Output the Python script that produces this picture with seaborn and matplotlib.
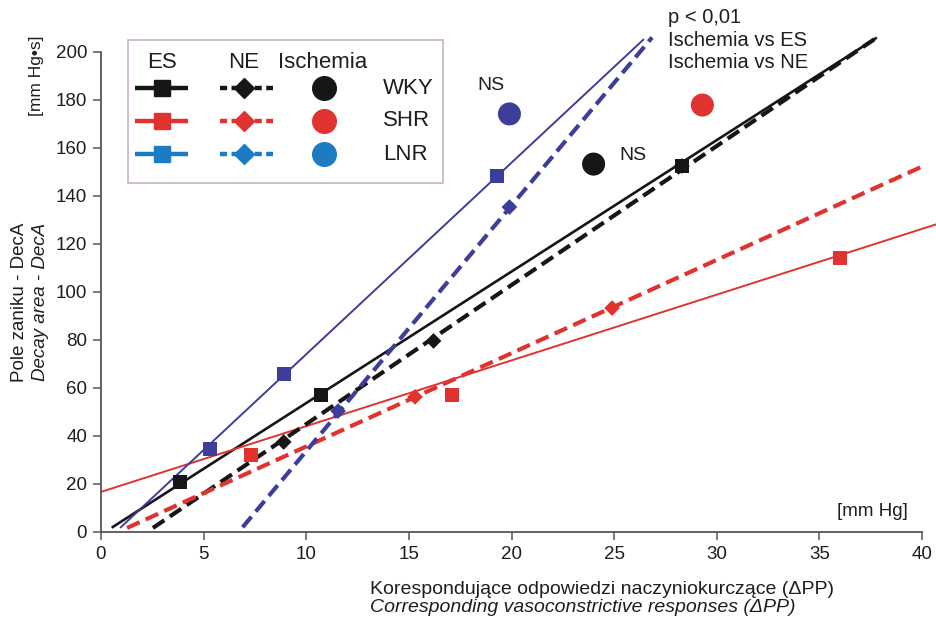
import matplotlib
matplotlib.use("Agg")
import matplotlib.pyplot as plt
from matplotlib.lines import Line2D
from matplotlib.patches import Rectangle
import numpy as np
import pandas as pd
import seaborn as sns

# ---------------------------------------------------------------- data
strains = ["WKY", "SHR", "LNR"]
protocols = ["ES", "NE", "Ischemia"]

# electrical stimulation (ES): corresponding ΔPP [mm Hg] and DecA [mm Hg*s]
wky_es_x = [3.85, 10.7, 28.3]
wky_es_y = [20.8, 57.1, 152.5]
shr_es_x = [7.3, 17.1, 36.0]
shr_es_y = [32.1, 57.1, 114.2]
lnr_es_x = [5.3, 8.9, 19.3]
lnr_es_y = [34.6, 65.8, 148.3]

# noradrenaline (NE)
wky_ne_x = [8.9, 16.2, 28.3]
wky_ne_y = [37.5, 79.6, 152.5]
shr_ne_x = [15.3, 24.9]
shr_ne_y = [56.3, 93.3]
lnr_ne_x = [11.55, 19.9]
lnr_ne_y = [50.4, 135.4]

# ischemia
isch_x = [24.0, 29.3, 19.9]
isch_y = [153.3, 177.9, 174.2]

# regression lines: slope, intercept, x start, x end
wky_es_fit = [5.478, -1.05, 0.52, 37.8]
wky_ne_fit = [5.793, -12.96, 2.53, 37.8]
shr_es_fit = [2.74, 16.7, 0.0, 40.7]
shr_ne_fit = [3.887, -3.24, 1.27, 40.2]
lnr_es_fit = [7.98, -5.72, 0.93, 26.45]
lnr_ne_fit = [10.23, -68.6, 6.9, 26.85]

x_ticks = list(range(0, 41, 5))
y_ticks = list(range(0, 201, 20))

# ---------------------------------------------------------------- tables
points = pd.DataFrame(
    [dict(strain=s, protocol="ES", x=x, y=y)
     for s, xs, ys in [("WKY", wky_es_x, wky_es_y), ("SHR", shr_es_x, shr_es_y),
                       ("LNR", lnr_es_x, lnr_es_y)]
     for x, y in zip(xs, ys)]
    + [dict(strain=s, protocol="NE", x=x, y=y)
       for s, xs, ys in [("WKY", wky_ne_x, wky_ne_y), ("SHR", shr_ne_x, shr_ne_y),
                         ("LNR", lnr_ne_x, lnr_ne_y)]
       for x, y in zip(xs, ys)]
    + [dict(strain=s, protocol="Ischemia", x=x, y=y)
       for s, x, y in zip(strains, isch_x, isch_y)]
)

fits = {("WKY", "ES"): wky_es_fit, ("WKY", "NE"): wky_ne_fit,
        ("SHR", "ES"): shr_es_fit, ("SHR", "NE"): shr_ne_fit,
        ("LNR", "ES"): lnr_es_fit, ("LNR", "NE"): lnr_ne_fit}
lines = pd.DataFrame(
    [dict(strain=s, protocol=p, x=xv, y=m * xv + b)
     for (s, p), (m, b, x0, x1) in fits.items() for xv in (x0, x1)]
)

# ---------------------------------------------------------------- style
plot_colors = {"WKY": "#161616", "SHR": "#e0332f", "LNR": "#3d3d9c"}
key_colors = {"WKY": "#161616", "SHR": "#e0332f", "LNR": "#1b7bc3"}
markers = {"ES": "s", "NE": "D", "Ischemia": "o"}
marker_sizes = {"ES": 100, "NE": 64, "Ischemia": 275}
es_widths = {"WKY": 1.9, "SHR": 1.4, "LNR": 1.4}

sns.set_theme(style="ticks")
plt.rcParams["font.family"] = ["Liberation Sans", "DejaVu Sans"]
text_color = "#1e1e1e"

W, H = 936, 620
fig = plt.figure(figsize=(W / 100, H / 100), dpi=100)
ax = fig.add_axes([101 / W, 88 / H, 821 / W, 480 / H])


def fx(px):
    return px / W


def fy(py):
    return 1 - py / H


# trend lines
for s in strains:
    sub = lines[(lines.strain == s) & (lines.protocol == "ES")]
    sns.lineplot(data=sub, x="x", y="y", color=plot_colors[s], lw=es_widths[s],
                 estimator=None, legend=False, ax=ax)
for s in strains:
    sub = lines[(lines.strain == s) & (lines.protocol == "NE")]
    sns.lineplot(data=sub, x="x", y="y", color=plot_colors[s], lw=3.0,
                 estimator=None, legend=False, ax=ax)
    ax.lines[-1].set_dashes((3.3, 1.6))
for ln in ax.lines:
    ln.set_clip_on(False)
    ln.set_solid_capstyle("butt")

# markers
sns.scatterplot(data=points, x="x", y="y", hue="strain", palette=plot_colors,
                style="protocol", markers=markers, size="protocol",
                sizes=marker_sizes, linewidth=0, legend=False, ax=ax, zorder=5)
for c in ax.collections:
    c.set_clip_on(False)

# axes
ax.set_xlim(0, 40)
ax.set_ylim(0, 200)
ax.set_xticks(x_ticks)
ax.set_yticks(y_ticks)
ax.set_xlabel("")
ax.set_ylabel("")
sns.despine(ax=ax)
for sp in ("left", "bottom"):
    ax.spines[sp].set_color("#555555")
    ax.spines[sp].set_linewidth(1.3)
ax.tick_params(direction="out", length=6, width=1.1, color="#555555",
               labelsize=13.5, labelcolor=text_color, pad=4)

# axis titles
fig.text(fx(370), fy(589), "Korespondujące odpowiedzi naczyniokurczące (ΔPP)",
         ha="left", va="center", fontsize=14, color=text_color)
fig.text(fx(370), fy(608), "Corresponding vasoconstrictive responses (ΔPP)",
         ha="left", va="center", fontsize=14, style="italic", color=text_color)
fig.text(fx(20), fy(302), "Pole zaniku - DecA", rotation=90,
         ha="center", va="center", fontsize=13.5, color=text_color)
fig.text(fx(41), fy(302), "Decay area - DecA", rotation=90,
         ha="center", va="center", fontsize=13.5, style="italic", color=text_color)
fig.text(fx(36), fy(76), "[mm Hg•s]", rotation=90,
         ha="center", va="center", fontsize=12.5, color=text_color)
fig.text(fx(908), fy(512), "[mm Hg]", ha="right", va="center",
         fontsize=13.5, color=text_color)

# significance notes
fig.text(fx(491), fy(85), "NS", ha="center", va="center", fontsize=14, color=text_color)
fig.text(fx(633), fy(156), "NS", ha="center", va="center", fontsize=14, color=text_color)
fig.text(fx(668), fy(8), "p < 0,01\nIschemia vs ES\nIschemia vs NE",
         ha="left", va="top", fontsize=14.5, color=text_color, linespacing=1.25)

# key box
fig.add_artist(Rectangle((fx(128), fy(183)), fx(443) - fx(128), fy(40) - fy(183),
                         transform=fig.transFigure, fill=False,
                         edgecolor="#c9b2c9", lw=1.2))
head_x = {"ES": 162, "NE": 244, "Ischemia": 323}
for p in protocols:
    fig.text(fx(head_x[p]), fy(62), p, ha="center", va="center",
             fontsize=16, color=text_color)
row_y = {"WKY": 88, "SHR": 121, "LNR": 154}
for s in strains:
    yy = fy(row_y[s])
    col = key_colors[s]
    fig.add_artist(Line2D([fx(135), fx(188)], [yy, yy], transform=fig.transFigure,
                          color=col, lw=3.2, solid_capstyle="butt"))
    fig.add_artist(Line2D([fx(162)], [yy], transform=fig.transFigure, marker="s",
                          ms=12, color=col, mec=col, ls="none"))
    fig.add_artist(Line2D([fx(220), fx(273)], [yy, yy], transform=fig.transFigure,
                          color=col, lw=3.2, dashes=(1.6, 1.0)))
    fig.add_artist(Line2D([fx(244)], [yy], transform=fig.transFigure, marker="D",
                          ms=10, color=col, mec=col, ls="none"))
    fig.add_artist(Line2D([fx(324)], [yy], transform=fig.transFigure, marker="o",
                          ms=17, color=col, mec=col, ls="none"))
    fig.text(fx(383), yy, s, ha="left", va="center", fontsize=16, color=text_color)

fig.savefig("out.png", dpi=100)
